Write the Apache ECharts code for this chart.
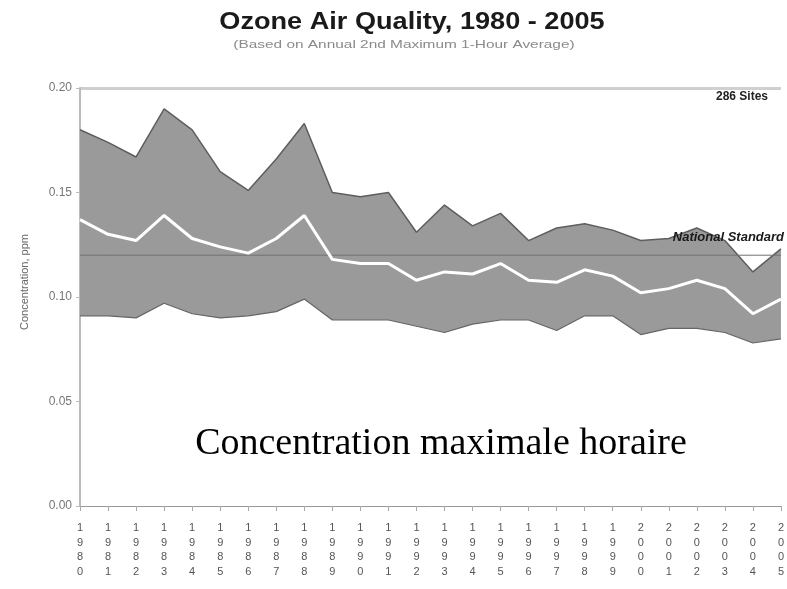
<!DOCTYPE html>
<html><head><meta charset="utf-8">
<script src="https://cdn.jsdelivr.net/npm/echarts@6/dist/echarts.min.js"></script>
<style>html,body{margin:0;padding:0;background:#fff}#c{width:787px;height:589px}</style>
</head><body><div id="c"></div>
<script>
const years = ['1980','1981','1982','1983','1984','1985','1986','1987','1988','1989','1990','1991','1992','1993','1994','1995','1996','1997','1998','1999','2000','2001','2002','2003','2004','2005'];
const upper90 = [0.180,0.174,0.167,0.190,0.180,0.160,0.151,0.166,0.183,0.150,0.148,0.150,0.131,0.144,0.134,0.140,0.127,0.133,0.135,0.132,0.127,0.128,0.133,0.127,0.112,0.123];
const meanConc = [0.137,0.130,0.127,0.139,0.128,0.124,0.121,0.128,0.139,0.118,0.116,0.116,0.108,0.112,0.111,0.116,0.108,0.107,0.113,0.110,0.102,0.104,0.108,0.104,0.092,0.099];
const lower10 = [0.091,0.091,0.090,0.097,0.092,0.090,0.091,0.093,0.099,0.089,0.089,0.089,0.086,0.083,0.087,0.089,0.089,0.084,0.091,0.091,0.082,0.085,0.085,0.083,0.078,0.080];
const yTicks = [0, 0.05, 0.10, 0.15, 0.20];
const standard = 0.12;

const bandWidth = upper90.map((u, i) => +(u - lower10[i]).toFixed(4));
const chart = echarts.init(document.getElementById('c'));
chart.setOption({
  animation: false,
  grid: {left: 80, right: 2, top: 88, bottom: 83},
  xAxis: {
    type: 'category', boundaryGap: false, data: years,
    axisLine: {lineStyle: {color: '#999', width: 1}},
    axisTick: {show: true, length: 5, lineStyle: {color: '#aaa'}},
    axisLabel: {
      interval: 0, margin: 15, color: '#555', fontSize: 11, lineHeight: 14.5,
      fontFamily: 'Liberation Sans',
      formatter: v => v.split('').join('\n')
    }
  },
  yAxis: {
    type: 'value', min: 0, max: 0.2, interval: 0.05,
    axisLine: {show: true, lineStyle: {color: '#bbb', width: 2}},
    axisTick: {show: true, length: 4, lineStyle: {color: '#bbb'}},
    axisLabel: {color: '#777', fontSize: 12, fontFamily: 'Liberation Sans', margin: 8,
      formatter: v => yTicks.includes(+v.toFixed(2)) ? v.toFixed(2) : ''},
    splitLine: {show: true, lineStyle: {color: ['rgba(0,0,0,0)','rgba(0,0,0,0)','rgba(0,0,0,0)','rgba(0,0,0,0)','#cfcfcf'], width: 3}}
  },
  series: [
    {
      type: 'line', name: 'lower', stack: 'band', data: lower10, symbol: 'none',
      lineStyle: {color: '#666', width: 1.2}
    },
    {
      type: 'line', name: 'band', stack: 'band', data: bandWidth, symbol: 'none',
      lineStyle: {color: '#5e5e5e', width: 1.5},
      areaStyle: {color: '#9a9a9a', opacity: 1}
    },
    {
      type: 'line', name: 'standard', data: years.map(() => standard), symbol: 'none',
      lineStyle: {color: '#707070', width: 1}, z: 3
    },
    {
      type: 'line', name: 'mean', data: meanConc, symbol: 'none',
      lineStyle: {color: '#fff', width: 3}, z: 4
    }
  ],
  graphic: [
    {type: 'text', x: 412, y: 22, z: 100, scaleX: 1.13, style: {text: 'Ozone Air Quality, 1980 - 2005', textAlign: 'center', textVerticalAlign: 'middle', fontFamily: 'Liberation Sans', fontWeight: 'bold', fontSize: 24, fill: '#1a1a1a'}},
    {type: 'text', x: 404, y: 45, z: 100, scaleX: 1.4, style: {text: '(Based on Annual 2nd Maximum 1-Hour Average)', textAlign: 'center', textVerticalAlign: 'middle', fontFamily: 'Liberation Sans', fontSize: 11, fill: '#8a8a8a'}},
    {type: 'text', x: 25, y: 282, z: 100, rotation: Math.PI / 2, style: {text: 'Concentration, ppm', textAlign: 'center', textVerticalAlign: 'middle', fontFamily: 'Liberation Sans', fontSize: 11, fill: '#666'}},
    {type: 'text', x: 768, y: 97, z: 100, style: {text: '286 Sites', textAlign: 'right', textVerticalAlign: 'middle', fontFamily: 'Liberation Sans', fontWeight: 'bold', fontSize: 12, fill: '#222'}},
    {type: 'text', x: 784, y: 237, z: 100, style: {text: 'National Standard', textAlign: 'right', textVerticalAlign: 'middle', fontFamily: 'Liberation Sans', fontWeight: 'bold', fontStyle: 'italic', fontSize: 13, fill: '#1a1a1a'}},
    {type: 'text', x: 441, y: 444, z: 100, style: {text: 'Concentration maximale horaire', textAlign: 'center', textVerticalAlign: 'middle', fontFamily: 'Liberation Serif', fontSize: 38, fill: '#000'}}
  ]
});
</script></body></html>
